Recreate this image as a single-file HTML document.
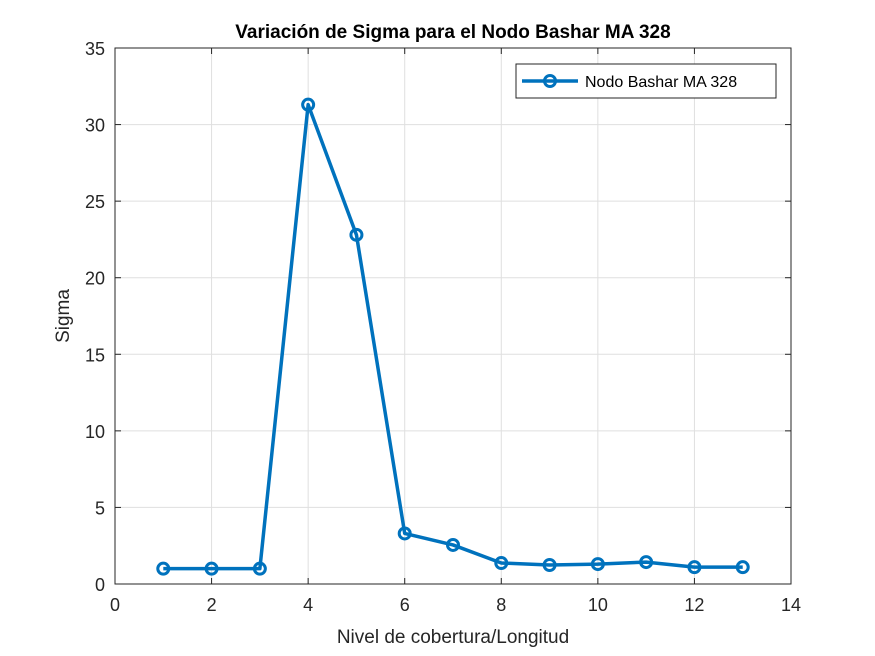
<!DOCTYPE html>
<html><head><meta charset="utf-8">
<style>
html,body{margin:0;padding:0;background:#fff;}
svg{display:block;font-family:"Liberation Sans",Arial,sans-serif;}
</style></head>
<body>
<svg id="chart" width="875" height="656" viewBox="0 0 875 656">
<rect x="0" y="0" width="875" height="656" fill="#fff"/>
<g id="grid"></g>
<g id="ticks"></g>
<rect x="115" y="48" width="676" height="536" fill="none" stroke="#262626" stroke-width="1"/>
<g id="series"></g>
<text x="453" y="38" text-anchor="middle" font-size="19" font-weight="bold" fill="#000">Variación de Sigma para el Nodo Bashar MA 328</text>
<text x="453" y="643" text-anchor="middle" font-size="19" fill="#262626">Nivel de cobertura/Longitud</text>
<text transform="translate(69,316) rotate(-90)" text-anchor="middle" font-size="19" fill="#262626">Sigma</text>
<g>
<rect x="516" y="64" width="260" height="34" fill="#fff" stroke="#262626" stroke-width="1"/>
<line x1="522" y1="81" x2="578" y2="81" stroke="#0072BD" stroke-width="3.5"/>
<circle cx="550" cy="81" r="5.5" fill="none" stroke="#0072BD" stroke-width="3"/>
<text x="585" y="87" font-size="16" fill="#000">Nodo Bashar MA 328</text>
</g>
</svg>
<script>
const xValues = [1,2,3,4,5,6,7,8,9,10,11,12,13];
const sigmaValues = [1.0,1.0,1.0,31.3,22.8,3.3,2.55,1.37,1.24,1.3,1.43,1.1,1.1];
const xTicks = [0,2,4,6,8,10,12,14];
const yTicks = [0,5,10,15,20,25,30,35];
const X0=115,X1=791,Y0=584,Y1=48;
function sx(v){return X0+(v-0)/(14-0)*(X1-X0);}
function sy(v){return Y0-(v-0)/(35-0)*(Y0-Y1);}
const NS="http://www.w3.org/2000/svg";
const grid=document.getElementById('grid'),ticks=document.getElementById('ticks'),series=document.getElementById('series');
function mk(tag,attrs,parent){const e=document.createElementNS(NS,tag);for(const k in attrs)e.setAttribute(k,attrs[k]);parent.appendChild(e);return e;}
xTicks.forEach(t=>{
  const x=sx(t);
  const g=mk('line',{x1:x,y1:Y0,x2:x,y2:Y1,stroke:'#dfdfdf','stroke-width':1},grid);
  
  
  mk('line',{x1:x,y1:Y0,x2:x,y2:Y0-6,stroke:'#262626'},ticks);
  mk('line',{x1:x,y1:Y1,x2:x,y2:Y1+6,stroke:'#262626'},ticks);
  const tx=mk('text',{x:x,y:Y0+27,'text-anchor':'middle','font-size':18,fill:'#262626'},ticks);
  tx.textContent=t;
  
  
});
yTicks.forEach(t=>{
  const y=sy(t);
  const g=mk('line',{x1:X0,y1:y,x2:X1,y2:y,stroke:'#dfdfdf','stroke-width':1},grid);
  
  
  mk('line',{x1:X0,y1:y,x2:X0+6,y2:y,stroke:'#262626'},ticks);
  mk('line',{x1:X1,y1:y,x2:X1-6,y2:y,stroke:'#262626'},ticks);
  const tx=mk('text',{x:X0-10,y:y+7,'text-anchor':'end','font-size':18,fill:'#262626'},ticks);
  tx.textContent=t;
  
  
});
const pts=xValues.map((x,i)=>sx(x)+','+sy(sigmaValues[i])).join(' ');
const pl=mk('polyline',{points:pts,fill:'none',stroke:'#0072BD','stroke-width':3.5,'stroke-linejoin':'round'},series);


xValues.forEach((x,i)=>{
  const c=mk('circle',{cx:sx(x),cy:sy(sigmaValues[i]),r:5.5,fill:'none',stroke:'#0072BD','stroke-width':3},series);
  
  
});
</script>
</body></html>
